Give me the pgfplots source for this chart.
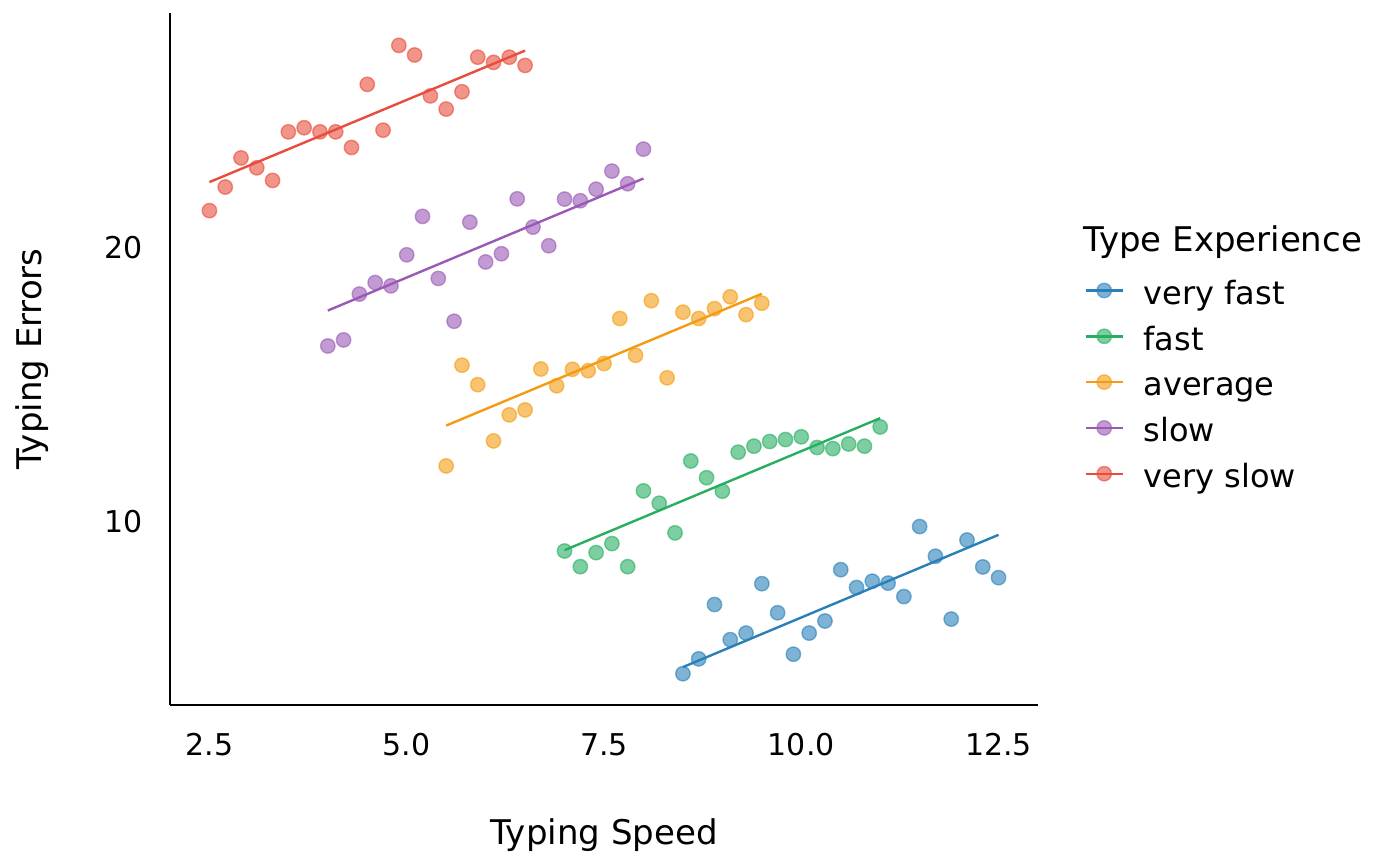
\documentclass[border=0pt]{standalone}
\usepackage{fontspec}
\setmainfont{DejaVu Sans}
\usepackage{pgfplots}
\pgfplotsset{compat=1.18}
\usepackage{pgfplotstable}

\definecolor{cvf}{HTML}{2980B9}
\definecolor{cf}{HTML}{27AE60}
\definecolor{cav}{HTML}{F39C12}
\definecolor{cs}{HTML}{9B59B6}
\definecolor{cvs}{HTML}{E74C3C}

\pgfplotstableread{
x y
8.5 4.46
8.7 5.00
8.9 6.98
9.1 5.70
9.3 5.94
9.5 7.74
9.7 6.68
9.9 5.17
10.1 5.94
10.3 6.38
10.5 8.25
10.7 7.60
10.9 7.83
11.1 7.76
11.3 7.27
11.5 9.82
11.7 8.74
11.9 6.45
12.1 9.33
12.3 8.35
12.5 7.96
}\veryfast

\pgfplotstableread{
x y
7.0 8.93
7.2 8.36
7.4 8.87
7.6 9.20
7.8 8.36
8.0 11.12
8.2 10.67
8.4 9.59
8.6 12.21
8.8 11.60
9.0 11.11
9.2 12.53
9.4 12.75
9.6 12.92
9.8 12.99
10.0 13.09
10.2 12.70
10.4 12.66
10.6 12.83
10.8 12.75
11.0 13.45
}\fast

\pgfplotstableread{
x y
5.5 12.03
5.7 15.70
5.9 14.99
6.1 12.94
6.3 13.89
6.5 14.07
6.7 15.56
6.9 14.95
7.1 15.55
7.3 15.50
7.5 15.76
7.7 17.40
7.9 16.06
8.1 18.05
8.3 15.24
8.5 17.63
8.7 17.40
8.9 17.76
9.1 18.19
9.3 17.54
9.5 17.96
}\average

\pgfplotstableread{
x y
4.0 16.40
4.2 16.62
4.4 18.29
4.6 18.71
4.8 18.59
5.0 19.72
5.2 21.12
5.4 18.86
5.6 17.30
5.8 20.91
6.0 19.46
6.2 19.76
6.4 21.76
6.6 20.73
6.8 20.05
7.0 21.75
7.2 21.69
7.4 22.11
7.6 22.77
7.8 22.31
8.0 23.57
}\slow

\pgfplotstableread{
x y
2.5 21.33
2.7 22.19
2.9 23.25
3.1 22.89
3.3 22.43
3.5 24.20
3.7 24.35
3.9 24.20
4.1 24.20
4.3 23.63
4.5 25.93
4.7 24.26
4.9 27.35
5.1 27.00
5.3 25.51
5.5 25.03
5.7 25.66
5.9 26.92
6.1 26.73
6.3 26.92
6.5 26.62
}\veryslow

\pgfplotsset{
  pts/.style={only marks, mark=*, mark size=3.6pt, forget plot,
    mark options={draw=#1, fill=#1, fill opacity=0.6, draw opacity=0.6, line width=0.7pt}},
  fitline/.style={color=#1, line width=1.2pt, no markers,
    legend image code/.code={
      \draw[color=#1, line width=1.2pt] (0pt,3.45pt) -- (18.8pt,3.45pt);
      \filldraw[draw=#1, fill=#1, fill opacity=0.6, draw opacity=0.6, line width=0.7pt] (9.2pt,3.45pt) circle (3.6pt);
    }},
}

\begin{document}
\begin{tikzpicture}
\begin{axis}[
  scale only axis, width=434pt, height=346pt,
  xmin=2, xmax=13, ymin=3.32, ymax=28.53,
  axis x line*=bottom, axis y line*=left,
  axis line style={line width=0.85pt, black},
  major tick length=0pt,
  xtick={2.5,5,7.5,10,12.5}, ytick={10,20},
  /pgf/number format/assume math mode=true,
  x tick label style={/pgf/number format/.cd, fixed, fixed zerofill, precision=1},
  tick label style={font=\fontsize{15}{18}\selectfont},
  xticklabel shift=10.7pt,
  yticklabel shift=10pt,
  xlabel={Typing Speed}, ylabel={Typing Errors},
  label style={font=\fontsize{17}{20}\selectfont},
  xlabel style={at={(axis description cs:0.5,-0.1879)}, anchor=center},
  ylabel style={at={(axis description cs:-0.1584,0.5)}, anchor=center, rotate=0},
  legend cell align=left,
  legend style={at={(axis description cs:1.0537,0.6221)}, anchor=north west,
    draw=none, fill=none, inner sep=0pt, outer sep=0pt,
    row sep=0pt, column sep=9.5pt,
    font=\fontsize{16}{19}\selectfont,
    nodes={inner sep=0pt, text height=14.9pt, text depth=8pt}},
]
\addplot[pts=cvf] table {\veryfast};
\addplot[fitline=cvf] coordinates {(8.5,4.70) (12.5,9.52)};
\addlegendentry{very fast}
\addplot[pts=cf] table {\fast};
\addplot[fitline=cf] coordinates {(7.0,8.96) (11.0,13.77)};
\addlegendentry{fast}
\addplot[pts=cav] table {\average};
\addplot[fitline=cav] coordinates {(5.5,13.50) (9.5,18.30)};
\addlegendentry{average}
\addplot[pts=cs] table {\slow};
\addplot[fitline=cs] coordinates {(4.0,17.69) (8.0,22.50)};
\addlegendentry{slow}
\addplot[pts=cvs] table {\veryslow};
\addplot[fitline=cvs] coordinates {(2.5,22.37) (6.5,27.16)};
\addlegendentry{very slow}
\end{axis}
\node[anchor=base west, inner sep=0pt, font=\fontsize{17}{20}\selectfont]
  at (456.6pt,226.65pt) {Type Experience};
\pgfresetboundingbox
\path[use as bounding box] (-85pt,-80pt) rectangle (615pt,352.5pt);
\end{tikzpicture}
\end{document}
